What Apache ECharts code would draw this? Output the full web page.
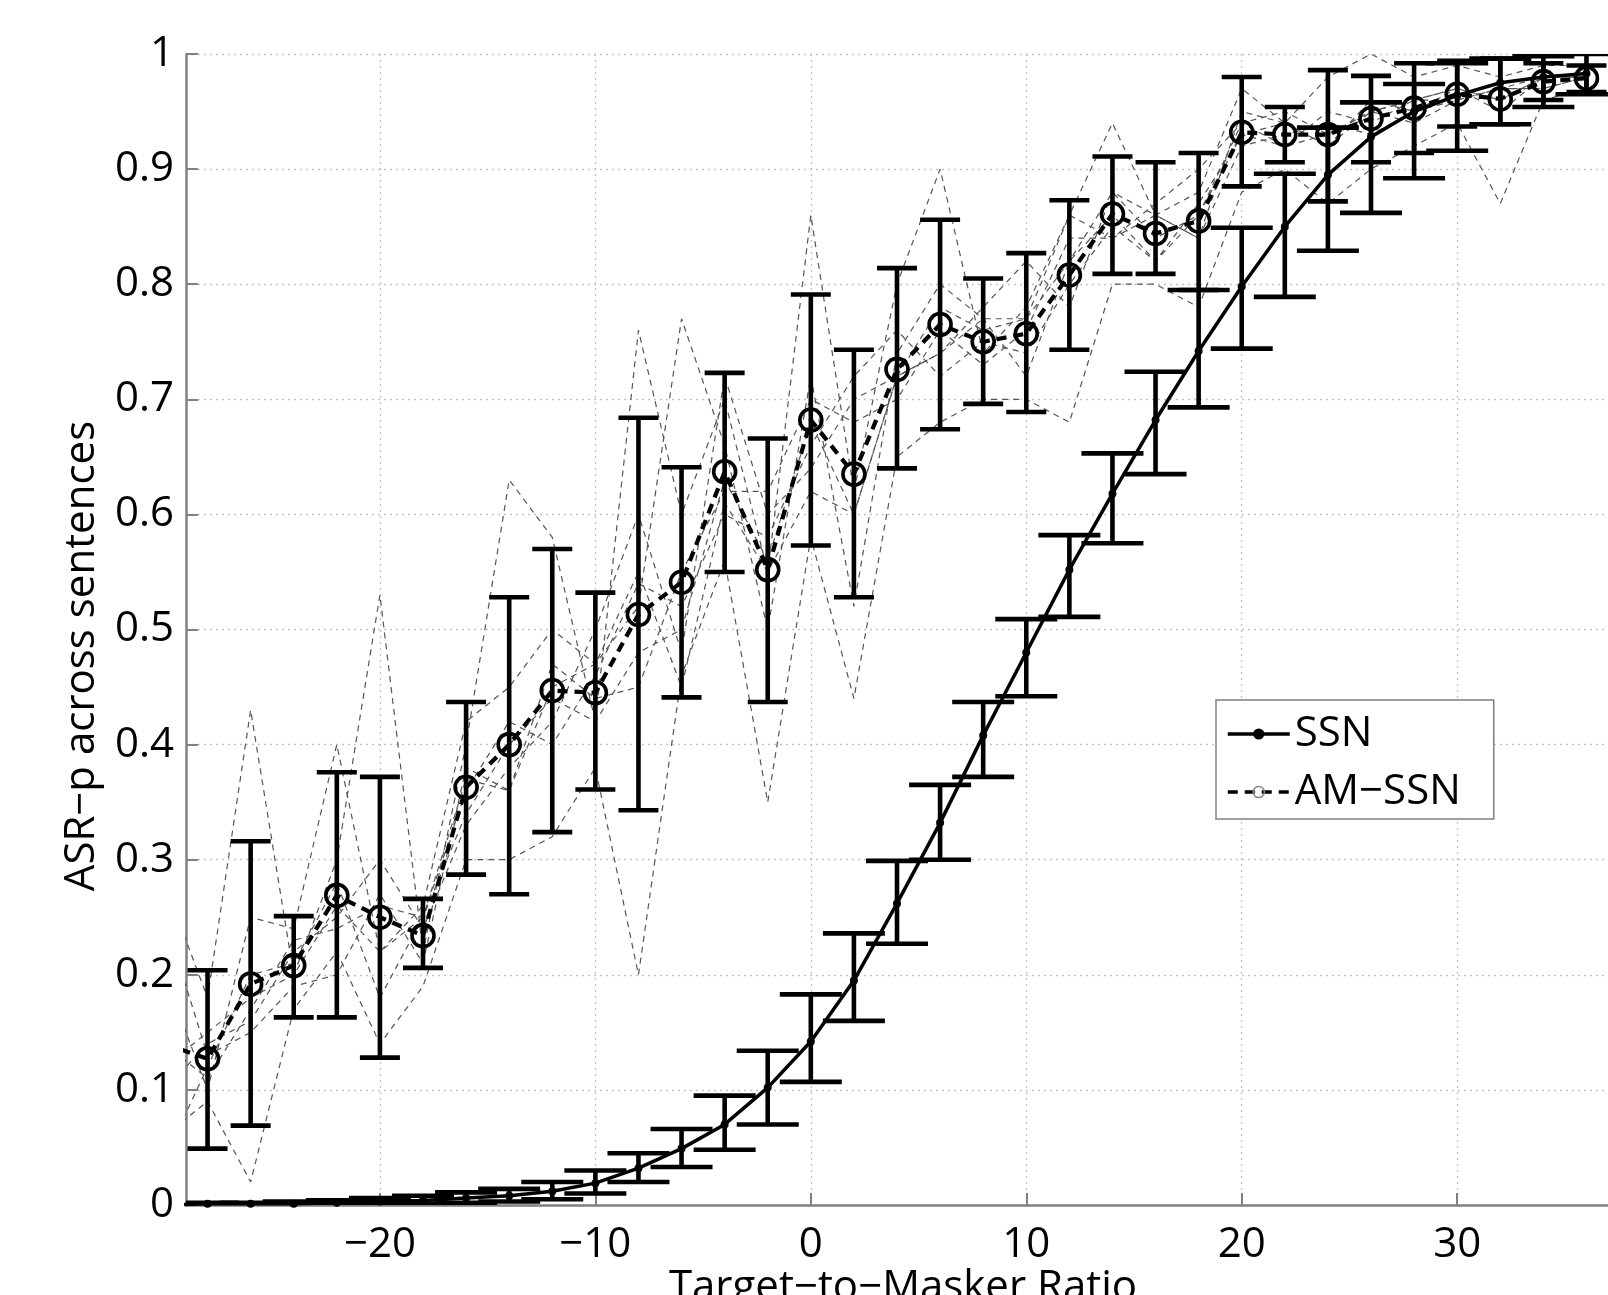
<!DOCTYPE html>
<html>
<head>
<meta charset="utf-8">
<script src="https://cdn.jsdelivr.net/npm/echarts@6/dist/echarts.min.js"></script>
<style>
html,body{margin:0;padding:0;background:#fff;}
#c{width:1608px;height:1295px;}
</style>
</head>
<body>
<div id="c"></div>
<script>
// ---- data ----
const xs = [-30,-28,-26,-24,-22,-20,-18,-16,-14,-12,-10,-8,-6,-4,-2,0,2,4,6,8,10,12,14,16,18,20,22,24,26,28,30,32,34,36];
const xTicks = [-20,-10,0,10,20,30];

const ssnMean = [0.000,0.001,0.001,0.001,0.002,0.003,0.004,0.006,0.008,0.012,0.019,0.032,0.049,0.070,0.102,0.142,0.195,0.262,0.332,0.408,0.480,0.552,0.618,0.682,0.742,0.798,0.850,0.895,0.928,0.950,0.964,0.975,0.980,0.983];
const ssnLow  = [null,0.000,0.000,0.000,0.000,0.001,0.001,0.002,0.003,0.005,0.010,0.020,0.033,0.048,0.070,0.107,0.160,0.227,0.300,0.372,0.442,0.511,0.575,0.635,0.693,0.744,0.789,0.829,0.862,0.892,0.916,0.939,0.954,0.965];
const ssnHigh = [null,0.002,0.002,0.003,0.004,0.006,0.008,0.011,0.014,0.020,0.030,0.045,0.066,0.095,0.134,0.183,0.236,0.299,0.365,0.437,0.509,0.582,0.653,0.724,0.795,0.849,0.896,0.936,0.958,0.974,0.992,0.996,0.998,1.000];

const amMean = [0.140,0.127,0.192,0.208,0.269,0.250,0.234,0.363,0.400,0.447,0.445,0.513,0.541,0.637,0.552,0.682,0.635,0.726,0.765,0.750,0.757,0.808,0.861,0.844,0.855,0.932,0.930,0.930,0.944,0.953,0.965,0.961,0.976,0.979];
const amLow  = [null,0.049,0.069,0.163,0.163,0.128,0.206,0.287,0.270,0.324,0.361,0.343,0.441,0.550,0.437,0.573,0.528,0.640,0.674,0.696,0.689,0.743,0.809,0.809,0.795,0.885,0.906,0.872,0.906,0.914,0.937,0.939,0.960,0.967];
const amHigh = [null,0.204,0.316,0.251,0.376,0.372,0.266,0.437,0.528,0.570,0.532,0.684,0.641,0.723,0.666,0.791,0.743,0.814,0.856,0.805,0.827,0.873,0.911,0.906,0.914,0.980,0.954,0.986,0.981,0.992,0.994,0.996,0.992,0.990];

// individual sentences (AM-SSN), thin dashed
const sent1 = [0.28,0.18,0.43,0.20,0.30,0.53,0.22,0.40,0.63,0.58,0.42,0.76,0.60,0.70,0.55,0.86,0.62,0.80,0.90,0.74,0.78,0.86,0.94,0.86,0.88,0.97,0.94,0.98,1.00,0.98,0.99,0.98,0.99,0.99];
const sent2 = [0.06,0.09,0.02,0.17,0.22,0.14,0.19,0.30,0.30,0.32,0.38,0.20,0.46,0.56,0.35,0.58,0.44,0.65,0.68,0.70,0.70,0.68,0.80,0.80,0.78,0.88,0.90,0.87,0.90,0.92,0.94,0.87,0.96,0.97];
const sent3 = [0.20,0.10,0.25,0.24,0.40,0.22,0.26,0.42,0.45,0.50,0.47,0.52,0.77,0.66,0.50,0.72,0.52,0.74,0.80,0.77,0.72,0.82,0.86,0.82,0.87,0.93,0.92,0.95,0.94,0.96,0.97,0.96,0.98,0.98];
const sent4 = [0.10,0.14,0.16,0.22,0.25,0.30,0.24,0.33,0.38,0.42,0.50,0.60,0.48,0.72,0.60,0.64,0.70,0.72,0.74,0.78,0.82,0.78,0.88,0.86,0.84,0.95,0.94,0.92,0.96,0.95,0.96,0.97,0.97,0.98];
const sent5 = [0.25,0.13,0.15,0.19,0.20,0.27,0.21,0.38,0.36,0.47,0.44,0.45,0.55,0.62,0.62,0.70,0.68,0.70,0.76,0.73,0.76,0.84,0.84,0.86,0.84,0.92,0.93,0.94,0.93,0.95,0.97,0.95,0.98,0.98];
const sent6 = [0.04,0.12,0.20,0.21,0.28,0.18,0.25,0.36,0.42,0.40,0.46,0.54,0.52,0.60,0.58,0.66,0.72,0.76,0.72,0.75,0.74,0.80,0.85,0.82,0.86,0.93,0.94,0.92,0.95,0.94,0.96,0.97,0.97,0.98];
const sent7 = [0.14,0.11,0.17,0.23,0.24,0.26,0.25,0.34,0.40,0.44,0.42,0.48,0.50,0.63,0.56,0.68,0.60,0.72,0.78,0.76,0.77,0.82,0.88,0.84,0.86,0.94,0.92,0.93,0.95,0.96,0.96,0.97,0.98,0.98];
const sent8 = [0.12,0.15,0.18,0.20,0.26,0.22,0.25,0.37,0.36,0.45,0.47,0.55,0.45,0.61,0.55,0.62,0.60,0.72,0.74,0.77,0.77,0.86,0.84,0.87,0.90,0.94,0.95,0.93,0.95,0.96,0.97,0.96,0.98,0.98];
const sentences = [sent1,sent2,sent3,sent4,sent5,sent6,sent7,sent8];

// ---- build ----
const FONT = 'Open Sans';
const pairs = arr => xs.map((x,i) => [x, arr[i]]);
const bars = (lo, hi) => xs.map((x,i) => [x, lo[i], hi[i]]).filter(d => d[1] !== null);

function errRender(capW){
  return function(params, api){
    const x = api.value(0), lo = api.value(1), hi = api.value(2);
    const t = api.coord([x, hi]), b = api.coord([x, lo]);
    const h = capW/2;
    const st = {stroke:'#000', lineWidth:4.6};
    return {type:'group', children:[
      {type:'line', shape:{x1:t[0],y1:t[1],x2:b[0],y2:b[1]}, style:st},
      {type:'line', shape:{x1:t[0]-h,y1:t[1],x2:t[0]+h,y2:t[1]}, style:st},
      {type:'line', shape:{x1:b[0]-h,y1:b[1],x2:b[0]+h,y2:b[1]}, style:st}
    ]};
  };
}

const series = [];
sentences.forEach((s,k) => {
  series.push({name:'sent'+(k+1), type:'line', data:pairs(s), symbol:'none', silent:true, z:1,
    lineStyle:{color:'#555', width:1.2, type:[6,5]}, clip:true});
});
series.push({name:'SSN err', type:'custom', data:bars(ssnLow, ssnHigh), renderItem:errRender(62),
  encode:{x:0,y:[1,2]}, z:3, clip:true});
series.push({name:'AM err', type:'custom', data:bars(amLow, amHigh), renderItem:errRender(40),
  encode:{x:0,y:[1,2]}, z:3, clip:true});
series.push({name:'SSN', type:'line', data:pairs(ssnMean), symbol:'circle', symbolSize:8, z:4,
  itemStyle:{color:'#000'}, lineStyle:{color:'#000', width:3.5}, clip:true});
series.push({name:'AM\u2212SSN', type:'line', data:pairs(amMean), symbol:'circle', symbolSize:22, z:5,
  itemStyle:{color:'rgba(0,0,0,0)', borderColor:'#000', borderWidth:3.6},
  lineStyle:{color:'#000', width:4.2, type:[10,7]}, clip:true});

const chart = echarts.init(document.getElementById('c'), null, {renderer:'canvas'});
chart.setOption({
  animation:false,
  backgroundColor:'#fff',
  textStyle:{fontFamily:FONT},
  grid:{left:186, top:54, right:0, bottom:90, containLabel:false},
  xAxis:{
    type:'value', min:-29, max:37,
    axisLine:{show:true, onZero:false, lineStyle:{color:'#808080', width:2.5}},
    axisTick:{show:true, inside:true, length:12, customValues:xTicks, lineStyle:{color:'#808080', width:2}},
    axisLabel:{customValues:xTicks, fontSize:42, color:'#000', fontFamily:FONT, margin:19,
      formatter:v => String(v).replace('-', '\u2212')},
    splitLine:{show:true, lineStyle:{color:'#c4c4c4', width:1.3, type:[2,4]}}
  },
  yAxis:{
    type:'value', min:0, max:1, interval:0.1,
    axisLine:{show:true, onZero:false, lineStyle:{color:'#808080', width:2.5}},
    axisTick:{show:true, inside:true, length:12, lineStyle:{color:'#808080', width:2}},
    axisLabel:{fontSize:42, color:'#000', fontFamily:FONT, margin:12,
      formatter:v => String(Math.round(v*10)/10)},
    splitLine:{show:true, lineStyle:{color:'#c4c4c4', width:1.3, type:[2,4]}}
  },
  legend:{
    data:[{name:'SSN'}, {name:'AM\u2212SSN', itemStyle:{borderColor:'#888', borderWidth:1.5}}],
    orient:'vertical', left:1216, top:700,
    backgroundColor:'#fff', borderColor:'#808080', borderWidth:1.5,
    padding:[13,33,6,10], itemGap:16, itemWidth:62, itemHeight:14,
    lineStyle:{width:3.5},
    textStyle:{fontSize:42, color:'#000', fontFamily:FONT}
  },
  graphic:[
    {type:'text', x:903, y:1267, style:{text:'Target\u2212to\u2212Masker Ratio', font:'42px "Open Sans"', fill:'#000', textAlign:'center', textVerticalAlign:'top'}},
    {type:'text', x:82, y:656, rotation:Math.PI/2, style:{text:'ASR\u2212p across sentences', font:'42px "Open Sans"', fill:'#000', textAlign:'center', textVerticalAlign:'middle'}}
  ],
  series:series
});
</script>
</body>
</html>
